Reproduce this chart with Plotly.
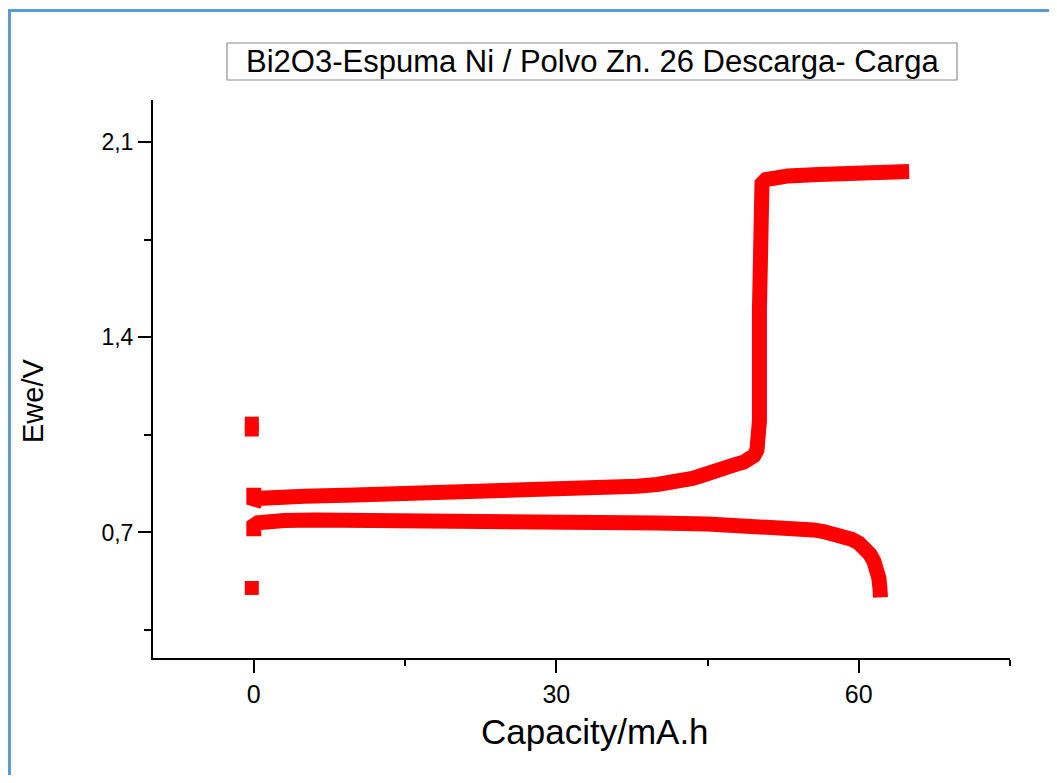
import plotly.graph_objects as go

# ---- data ----
charge_cap = [0, 0, 0.4, 1.5, 5, 10, 15, 20, 25, 30, 34, 38, 40, 41.5, 42.5, 43.5, 44.5, 45.3, 46,
              46.8, 47.8, 48.6, 49.2, 49.6, 49.9, 50.05, 50.15, 50.15, 50.2, 50.25, 50.4, 50.8, 51.5,
              53, 56, 60, 65]
charge_v = [0.86, 0.80, 0.822, 0.827, 0.830, 0.834, 0.838, 0.842, 0.846, 0.851, 0.857, 0.866, 0.872,
            0.878, 0.885, 0.894, 0.905, 0.917, 0.927, 0.935, 0.944, 0.952, 0.962, 0.975, 0.995, 1.03,
            1.10, 1.50, 1.85, 1.92, 1.950, 1.965, 1.973, 1.978, 1.983, 1.988, 1.994]

discharge_cap = [0, 0, 0.4, 1.5, 3, 6, 10, 15, 20, 25, 30, 35, 40, 45, 50, 52, 54, 55.5, 56.5, 57.5,
                 58.5, 59.3, 60, 60.6, 61.1, 61.5, 61.8, 62.0, 62.1, 62.15]
discharge_v = [0.686, 0.725, 0.735, 0.740, 0.743, 0.745, 0.745, 0.744, 0.742, 0.741, 0.739, 0.737,
               0.734, 0.730, 0.725, 0.721, 0.715, 0.709, 0.703, 0.696, 0.687, 0.676, 0.662, 0.645,
               0.622, 0.597, 0.568, 0.535, 0.50, 0.467]

point_cap = [-0.2, -0.2, -0.2]
point_v = [1.090, 1.069, 0.501]

x_ticks = [0, 30, 60]
x_minor = [15, 45, 75]
y_ticks = [0.7, 1.4, 2.1]
y_ticklabels = ["0,7", "1,4", "2,1"]
y_minor = [0.35, 1.05, 1.75]

title_text = "Bi2O3-Espuma Ni / Polvo Zn. 26 Descarga- Carga"
x_title = "Capacity/mA.h"
y_title = "Ewe/V"

RED = "#ff0000"
FONT = "Liberation Sans, Arial, sans-serif"

fig = go.Figure()
fig.add_trace(go.Scatter(x=charge_cap, y=charge_v, mode="lines",
                         line=dict(color=RED, width=15), showlegend=False))
fig.add_trace(go.Scatter(x=discharge_cap, y=discharge_v, mode="lines",
                         line=dict(color=RED, width=15), showlegend=False))
fig.add_trace(go.Scatter(x=point_cap, y=point_v, mode="markers",
                         marker=dict(symbol="square", size=14, color=RED, line=dict(width=0)),
                         showlegend=False))

# page has an 8px body margin; work in page pixels and convert
OFF = 8
W, H = 1049, 767
L, R, T, B = 153 - OFF, 47, 100 - OFF, H - (658 - OFF)
pw, ph = W - L - R, H - T - B


def px(x):
    return (x - OFF - L) / pw


def py(y):
    return (H - B - (y - OFF)) / ph


fig.update_layout(
    width=W, height=H,
    margin=dict(l=L, r=R, t=T, b=B, pad=0),
    paper_bgcolor="white", plot_bgcolor="white",
    font=dict(family=FONT, color="black"),
    xaxis=dict(range=[-10, 75], showline=True, linecolor="black", linewidth=2,
               showgrid=False, zeroline=False, ticks="outside", ticklen=13, tickwidth=2,
               tickcolor="black", tickvals=x_ticks, ticktext=[str(v) for v in x_ticks],
               tickfont=dict(family=FONT, size=25),
               minor=dict(tickvals=x_minor, ticks="outside", ticklen=6, tickwidth=2, tickcolor="black")),
    yaxis=dict(range=[0.25, 2.25], showline=True, linecolor="black", linewidth=2,
               showgrid=False, zeroline=False, ticks="outside", ticklen=13, tickwidth=2,
               tickcolor="black", tickvals=y_ticks, ticktext=y_ticklabels,
               tickfont=dict(family=FONT, size=23),
               minor=dict(tickvals=y_minor, ticks="outside", ticklen=7, tickwidth=2, tickcolor="black")),
    annotations=[
        dict(text=title_text, xref="paper", yref="paper", x=px(592), y=py(62),
             showarrow=False, font=dict(size=31, family=FONT),
             xanchor="center", yanchor="middle"),
        dict(text=x_title, xref="paper", yref="paper", x=px(595), y=py(731),
             showarrow=False, font=dict(size=35, family=FONT),
             xanchor="center", yanchor="middle"),
        dict(text=y_title, xref="paper", yref="paper", x=px(33), y=py(401),
             showarrow=False, textangle=-90, font=dict(size=29, family=FONT),
             xanchor="center", yanchor="middle"),
    ],
    shapes=[
        dict(type="rect", xref="paper", yref="paper", x0=px(227), x1=px(957), y0=py(43), y1=py(80),
             line=dict(color="#8c8c8c", width=1.2), fillcolor="rgba(0,0,0,0)", layer="below"),
        dict(type="line", xref="paper", yref="paper", x0=px(9.5), x1=px(9.5), y0=py(9), y1=py(790),
             line=dict(color="#5b9bd5", width=3)),
        dict(type="line", xref="paper", yref="paper", x0=px(8), x1=px(1060), y0=py(10.5), y1=py(10.5),
             line=dict(color="#5b9bd5", width=3)),
    ],
)

fig.write_html("out.html")
